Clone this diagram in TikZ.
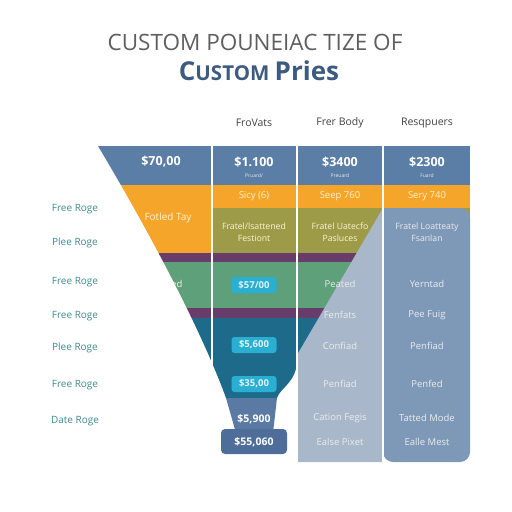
\documentclass[tikz,border=0pt]{standalone}
\usepackage{fontspec}
\setmainfont{Open Sans}
\definecolor{hdrblue}{HTML}{5B7EA6}
\definecolor{fnorange}{HTML}{F5A62A}
\definecolor{fnolive}{HTML}{9E9B48}
\definecolor{fnpurple}{HTML}{693D6B}
\definecolor{fngreen}{HTML}{5DA07A}
\definecolor{fnteal}{HTML}{1E6A8B}
\definecolor{fnlow}{HTML}{5A7AA3}
\definecolor{fnbox}{HTML}{4E6E99}
\definecolor{colgray}{HTML}{A8B8CA}
\definecolor{colblue}{HTML}{7E99B8}
\definecolor{pillcyan}{HTML}{2AAFD3}
\definecolor{pilltext}{HTML}{DDF3FA}
\definecolor{labteal}{HTML}{3C8A8E}
\definecolor{titlegray}{HTML}{5E5E5E}
\definecolor{titleblue}{HTML}{3D5A80}
\definecolor{cream}{HTML}{FFF1D2}
\tikzset{
  lbl/.style={text=labteal,font=\fontsize{10}{11}\selectfont},
  colhead/.style={text=black!75,font=\fontsize{10.5}{11}\selectfont},
  hdrval/.style={text=white,font=\bfseries\fontsize{12.5}{13}\selectfont},
  hdrsub/.style={text=white!85!hdrblue,font=\fontsize{5}{6}\selectfont},
  cell/.style={text=white!92!black,font=\fontsize{9.5}{11}\selectfont,align=center},
  warm/.style={text=cream,font=\fontsize{9.5}{11}\selectfont,align=center},
  pill/.style={fill=pillcyan,rounded corners=3pt,minimum width=45pt,minimum height=16pt,
    inner sep=0pt,text=pilltext,font=\bfseries\fontsize{9.5}{10}\selectfont},
}
\begin{document}
\begin{tikzpicture}[x=1pt,y=-1pt]
\useasboundingbox (0,0) rectangle (512,512);
% title
\node[text=titlegray,font=\fontsize{22.5}{24}\selectfont] (title) at (255,42) {CUSTOM POUNEIAC TIZE OF};
\node[text=titleblue,font=\bfseries] (subtitle) at (259,71)
  {\fontsize{26}{28}\selectfont C\fontsize{20.5}{22}\selectfont USTOM \fontsize{26}{28}\selectfont Pries};
% column heads
\node[colhead] (hA) at (254,123) {FroVats};
\node[colhead] (hB) at (340,123) {Frer Body};
\node[colhead] (hC) at (427,123) {Resqpuers};
% funnel bands
\begin{scope}
\clip (98,146) -- (470,146) -- (470,462) -- (297,462) -- (297,360)
  .. controls (297,382) and (280,388) .. (277,398) -- (273,433) -- (236,433) -- (226,398)
  .. controls (205,340) and (160,250) .. (98,146);
\fill[hdrblue] (0,146) rectangle (470,185);
\fill[fnorange] (0,185) rectangle (470,253);
\fill[fnolive] (212,208) rectangle (470,253);
\fill[fnpurple] (0,253) rectangle (470,262);
\fill[fngreen] (0,262) rectangle (470,308);
\fill[fnpurple] (0,308) rectangle (470,318);
\fill[fnteal] (0,318) rectangle (470,398);
\fill[fnlow] (0,398) rectangle (470,433);
\node[warm] (g0) at (166,284) {Fealred};
\end{scope}
% right panels
\fill[colgray] (383,208) -- (297,355) -- (297,462) -- (383,462) -- cycle;
\fill[colblue, rounded corners=10pt] (383,208) -- (470,208) -- (470,462) -- (383,462) [sharp corners] -- cycle;
\fill[fnbox, rounded corners=4pt] (221,429) rectangle (287,454);
% column lines
\foreach \x in {212,297,383}
  \draw[white, line width=1.2pt] (\x,146) -- (\x,462);
% header values
\node[hdrval] (v0) at (161,162) {\$70,00};
\node[hdrval] (v1) at (254,162) {\$1.100};
\node[hdrval] (v2) at (340,162) {\$3400};
\node[hdrval] (v3) at (427,162) {\$2300};
\node[hdrsub] (s1) at (254,176) {Pruard/};
\node[hdrsub] (s2) at (340,176) {Preuard};
\node[hdrsub] (s3) at (427,176) {Fuard};
% orange strip
\node[warm] (o1) at (254,196) {Sicy (6)};
\node[warm] (o2) at (340,196) {Seep 760};
\node[warm] (o3) at (427,196) {Sery 740};
\node[warm,font=\fontsize{10}{11}\selectfont] (o0) at (168,218) {Fotled Tay};
\node[warm,font=\fontsize{8.7}{11.5}\selectfont] (f1) at (254,232) {Fratel/lsattened\\Festiont};
\node[warm,font=\fontsize{8.7}{11.5}\selectfont] (f2) at (340,232) {Fratel Uatecfo\\Pasluces};
\node[cell,font=\fontsize{8.7}{11.5}\selectfont] (f3) at (427,232) {Fratel Loatteaty\\Fsanlan};
% pills and bottom values
\node[pill] (p1) at (254,285) {\$57/00};
\node[pill] (p2) at (254,345) {\$5,600};
\node[pill] (p3) at (254,384) {\$35,00};
\node[hdrval,font=\bfseries\fontsize{10.5}{11}\selectfont] (p4) at (254,419) {\$5,900};
\node[hdrval,font=\bfseries\fontsize{10.5}{11}\selectfont] (p5) at (254,442) {\$55,060};
% column texts
\foreach \y/\b/\c [count=\i] in {284/Peated/Yerntad, 315/Fenfats/Pee Fuig, 346/Confiad/Penfiad,
    384/Penfiad/Penfed, 418/Cation Fegis/Tatted Mode, 442/Ealse Pixet/Ealle Mest} {
  \node[cell] (b\i) at (340,\y) {\b};
  \node[cell] (c\i) at (427,\y) {\c};
}
% left labels
\foreach \y/\t [count=\i] in {209/Free Roge, 243/Plee Roge, 282/Free Roge, 316/Free Roge,
    348/Plee Roge, 385/Free Roge, 421/Date Roge}
  \node[lbl] (l\i) at (75,\y) {\t};
\end{tikzpicture}
\end{document}
